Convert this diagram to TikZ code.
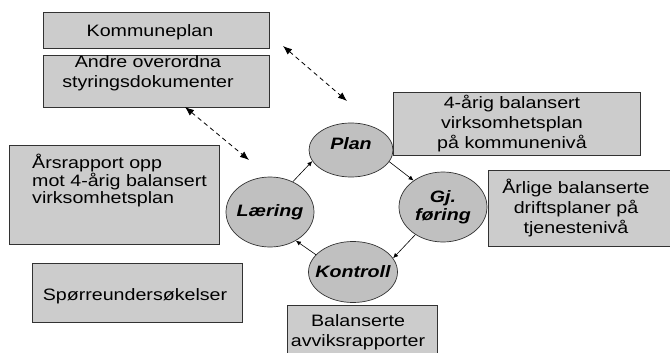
\documentclass[tikz,border=0pt]{standalone}
\usepackage{fontspec}
\setmainfont{Liberation Sans}[FakeStretch=1.19]
\usepackage{xcolor}
\usetikzlibrary{shapes.geometric,arrows.meta}
\definecolor{boxgray}{RGB}{204,204,204}
\definecolor{ovalgray}{RGB}{192,192,192}
\definecolor{edgegray}{RGB}{50,50,50}

\begin{document}
\begin{tikzpicture}[x=1pt,y=-1pt,
		txt/.style={font=\fontsize{16.5}{20}\selectfont, inner sep=0pt, align=center},
		stage/.style={ellipse, draw=edgegray, fill=ovalgray, line width=0.7pt, inner sep=0pt, align=center, font=\fontsize{16.5}{18}\selectfont\bfseries\itshape},
		flow/.style={-{Latex[length=5pt,width=4.5pt]}, line width=0.6pt},
		link/.style={{Latex[length=9pt,width=7pt]}-{Latex[length=9pt,width=7pt]}, dash pattern=on 4.5pt off 3.5pt, line width=0.8pt}]
		\useasboundingbox (0,0) rectangle (670,353);
		% boxes
		\filldraw[draw=edgegray, fill=boxgray, line width=0.7pt] (43,12) rectangle (269,48);
		\filldraw[draw=edgegray, fill=boxgray, line width=0.7pt] (43,55) rectangle (269,107);
		\filldraw[draw=edgegray, fill=boxgray, line width=0.7pt] (9,145) rectangle (219,244);
		\filldraw[draw=edgegray, fill=boxgray, line width=0.7pt] (32,263) rectangle (242,322);
		\filldraw[draw=edgegray, fill=boxgray, line width=0.7pt] (393,92) rectangle (640,155);
		\filldraw[draw=edgegray, fill=boxgray, line width=0.7pt] (488,170) rectangle (673,246);
		\filldraw[draw=edgegray, fill=boxgray, line width=0.7pt] (287,305) rectangle (437,357);
		\node[txt, anchor=base] (kplan) at (150,37) {Kommuneplan};
		\node[txt] (andre) at (148,73) {Andre overordna\\styringsdokumenter};
		\node[txt, align=left, anchor=west, font=\fontsize{16.5}{17.5}\selectfont] (aars) at (32,181) {Årsrapport opp\\mot 4-årig balansert\\virksomhetsplan};
		\node[txt, anchor=base] (sporre) at (135,300) {Spørreundersøkelser};
		\node[txt] (vplan) at (512,124) {4-årig balansert\\virksomhetsplan\\ på kommunenivå};
		\node[txt] (drift) at (576,208) {Årlige balanserte\\driftsplaner på\\tjenestenivå};
		\node[txt] (avvik) at (358,332) {Balanserte\\avviksrapporter};
		% cycle
		\node[stage, minimum width=84pt, minimum height=54pt] (plan) at (351,150) {\raisebox{6pt}[\height][\depth]{\makebox[0pt]{Plan}}};
		\node[stage, minimum width=88pt, minimum height=70pt] (gjf) at (443,207) {\makebox[0pt]{Gj.}\\\makebox[0pt]{føring}};
		\node[stage, minimum width=89pt, minimum height=61pt] (kontroll) at (353,272) {\makebox[0pt]{Kontroll}};
		\node[stage, minimum width=88pt, minimum height=70pt] (laering) at (270,212) {\makebox[0pt]{Læring}};
		\draw[flow] (laering.53) -- (plan.196);
		\draw[flow] (plan.343) -- (gjf.138);
		\draw[flow] (gjf.225) -- (kontroll.19);
		\draw[flow] (kontroll.155) -- (laering.312);
		% links to the plans
		\coordinate (kplanend) at (283,46);
		\coordinate (planend) at (347,101);
		\coordinate (andreend) at (185,107);
		\coordinate (laeringend) at (249,160);
		\draw[link] (kplanend) -- (planend);
		\draw[link] (andreend) -- (laeringend);
	\end{tikzpicture}
\end{document}
